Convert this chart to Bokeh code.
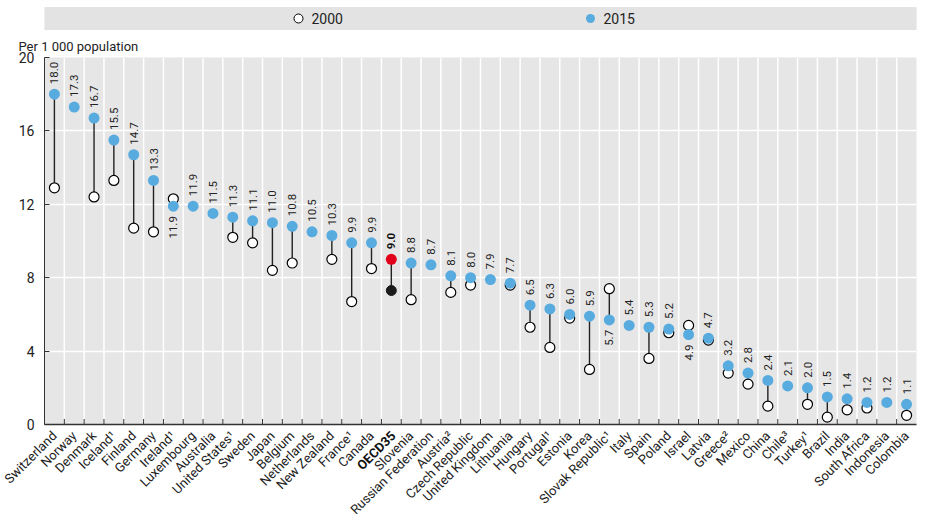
import math
from bokeh.plotting import figure
from bokeh.layouts import column
from bokeh.models import Range1d, FixedTicker
from bokeh.core.properties import value
from bokeh.embed import file_html
from bokeh.resources import INLINE

FONT = "Roboto"

countries = ["Switzerland", "Norway", "Denmark", "Iceland¹", "Finland", "Germany", "Ireland¹",
             "Luxembourg", "Australia", "United States¹", "Sweden", "Japan", "Belgium",
             "Netherlands", "New Zealand", "France¹", "Canada", "OECD35", "Slovenia",
             "Russian Federation", "Austria²", "Czech Republic", "United Kingdom", "Lithuania",
             "Hungary", "Portugal¹", "Estonia", "Korea", "Slovak Republic¹", "Italy", "Spain",
             "Poland", "Israel", "Latvia", "Greece²", "Mexico", "China", "Chile³", "Turkey¹",
             "Brazil", "India", "South Africa", "Indonesia", "Colombia"]
v2015 = [18.0, 17.3, 16.7, 15.5, 14.7, 13.3, 11.9, 11.9, 11.5, 11.3, 11.1, 11.0, 10.8,
         10.5, 10.3, 9.9, 9.9, 9.0, 8.8, 8.7, 8.1, 8.0, 7.9, 7.7, 6.5, 6.3, 6.0, 5.9, 5.7,
         5.4, 5.3, 5.2, 4.9, 4.7, 3.2, 2.8, 2.4, 2.1, 2.0, 1.5, 1.4, 1.2, 1.2, 1.1]
v2000 = [12.9, None, 12.4, 13.3, 10.7, 10.5, 12.3, None, None, 10.2, 9.9, 8.4, 8.8,
         None, 9.0, 6.7, 8.5, 7.3, 6.8, None, 7.2, 7.6, None, 7.6, 5.3, 4.2, 5.8, 3.0, 7.4,
         None, 3.6, 5.0, 5.4, 4.6, 2.8, 2.2, 1.0, None, 1.1, 0.4, 0.8, 0.9, None, 0.5]
y_ticks = [0, 4, 8, 12, 16, 20]
legend_labels = ["2000", "2015"]
unit_label = "Per 1 000 population"
highlight = "OECD35"

BLUE = "#58ABDF"
RED = "#E2001A"
BG = "#E6E6E6"
TXT = "#222222"

n = len(countries)
xs = list(range(n))
hi = countries.index(highlight)

# ---- top legend strip (its frame is aligned with the main frame: 44..916 px) ----
top = figure(width=950, height=30, x_range=Range1d(44, 916), y_range=Range1d(30, 0),
             toolbar_location=None, output_backend="svg", min_border=0)
top.axis.visible = False
top.grid.visible = False
top.outline_line_color = None
top.quad(left=[44], right=[916], top=[7], bottom=[30], color="#E3E3E3")
top.scatter([298], [18], size=9, fill_color="white", line_color="black", line_width=1)
top.scatter([590], [18], size=9, fill_color=BLUE, line_color=None)
top.text([311, 603], [18, 18], text=legend_labels, text_font_size="14px",
         text_baseline="middle", text_font=value(FONT), text_color=TXT)

# ---- main plot ----
p = figure(width=950, height=495, x_range=Range1d(-0.5, n - 0.5), y_range=Range1d(0, 20),
           toolbar_location=None, output_backend="svg",
           min_border_left=44, min_border_right=34, min_border_top=27, min_border_bottom=99)
p.title.text = unit_label
p.title.align = "left"
p.title.offset = -26
p.title.standoff = 7
p.title.text_font = FONT
p.title.text_font_style = "normal"
p.title.text_font_size = "13px"
p.title.text_color = TXT
p.background_fill_color = BG
p.outline_line_color = None
p.xgrid.visible = False
p.ygrid.ticker = FixedTicker(ticks=y_ticks[1:-1])
p.ygrid.grid_line_color = "white"
p.ygrid.grid_line_width = 1.5

# vertical white separators between countries
bounds = [i + 0.5 for i in range(n - 1)]
p.segment(x0=bounds, y0=[0] * len(bounds), x1=bounds, y1=[20] * len(bounds),
          line_color="white", line_width=1.5)
# small ticks at boundaries
p.segment(x0=bounds, y0=[0] * len(bounds), x1=bounds, y1=[0.3] * len(bounds),
          line_color="#333333", line_width=1)

# connectors
cx, c0, c1 = [], [], []
for i in xs:
    if v2000[i] is not None:
        cx.append(i); c0.append(v2000[i]); c1.append(v2015[i])
p.segment(x0=cx, y0=c0, x1=cx, y1=c1, line_color="#222222", line_width=1.4)

# 2000 markers
ox = [i for i in xs if v2000[i] is not None and i != hi]
oy = [v2000[i] for i in ox]
p.scatter(ox, oy, size=10, fill_color="white", line_color="black", line_width=1.2)
p.scatter([hi], [v2000[hi]], size=10, fill_color="#1A1A1A", line_color="#1A1A1A")

# 2015 markers
bx = [i for i in xs if i != hi]
by = [v2015[i] for i in bx]
p.scatter(bx, by, size=11, fill_color=BLUE, line_color=None)
p.scatter([hi], [v2015[hi]], size=11, fill_color=RED, line_color=None)

# value labels
up_x, up_y, up_t, dn_x, dn_y, dn_t = [], [], [], [], [], []
for i in xs:
    if i == hi:
        continue
    t = f"{v2015[i]:.1f}"
    if v2000[i] is not None and v2000[i] > v2015[i]:
        dn_x.append(i); dn_y.append(v2015[i]); dn_t.append(t)
    else:
        up_x.append(i); up_y.append(v2015[i]); up_t.append(t)
p.text(up_x, up_y, text=up_t, angle=math.pi / 2, text_align="left", text_baseline="middle",
       y_offset=-10, text_font_size="11.5px", text_font=value(FONT), text_color=TXT)
p.text(dn_x, dn_y, text=dn_t, angle=math.pi / 2, text_align="right", text_baseline="middle",
       y_offset=10, text_font_size="11.5px", text_font=value(FONT), text_color=TXT)
p.text([hi], [v2015[hi]], text=[f"{v2015[hi]:.1f}"], angle=math.pi / 2, text_align="left",
       text_baseline="middle", y_offset=-10, text_font_size="11.5px", text_font=value(FONT),
       text_font_style="bold", text_color="#111111")

# axes
p.yaxis.ticker = FixedTicker(ticks=y_ticks)
p.yaxis.major_tick_in = 5
p.yaxis.major_tick_out = 0
p.yaxis.minor_tick_line_color = None
p.yaxis.axis_line_color = "#333333"
p.yaxis.major_tick_line_color = "#333333"
p.yaxis.major_label_text_font = FONT
p.yaxis.major_label_text_font_size = "14px"
p.yaxis.major_label_text_color = TXT
p.yaxis.major_label_standoff = 10

p.xaxis.ticker = FixedTicker(ticks=xs)
p.xaxis.major_label_overrides = {i: ("" if i == hi else countries[i]) for i in xs}
p.xaxis.major_label_orientation = math.pi / 4
p.xaxis.major_tick_line_color = None
p.xaxis.minor_tick_line_color = None
p.xaxis.axis_line_color = "#333333"
p.xaxis.axis_line_width = 1.5
p.xaxis.major_label_text_font = FONT
p.xaxis.major_label_text_font_size = "13px"
p.xaxis.major_label_text_color = TXT
p.xaxis.major_label_standoff = 3

# bold highlight label drawn at overlay level
p.text([hi], [0], text=[highlight], angle=math.pi / 4, text_align="right",
       text_baseline="middle", x_offset=2, y_offset=9, text_font=value(FONT),
       text_font_size="13px", text_font_style="bold", text_color="#111111", level="overlay")

layout = column(top, p, spacing=0)
open("out.html", "w").write(file_html(layout, INLINE))
